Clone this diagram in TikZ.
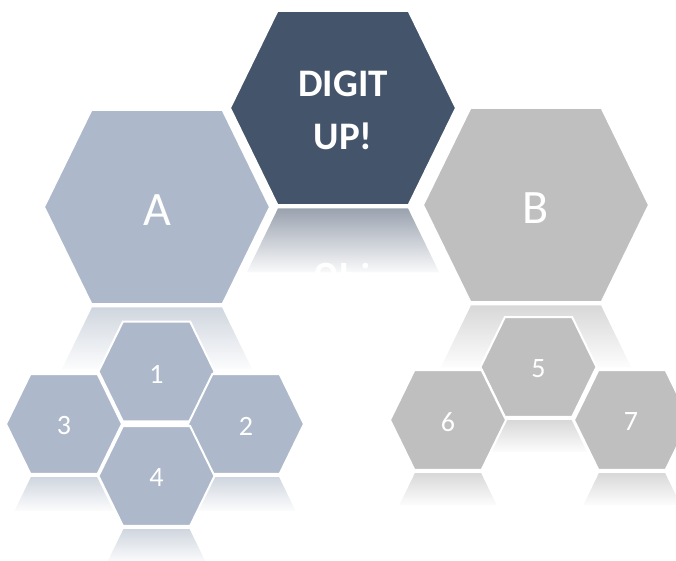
\documentclass[tikz,border=0pt]{standalone}
\usepackage{fontspec}
\setmainfont{Carlito}
\definecolor{darkhex}{HTML}{44546A}
\definecolor{bluehex}{HTML}{ADB9CA}
\definecolor{grayhex}{HTML}{BFBFBF}
\definecolor{darkrefl}{HTML}{9AA2AF}
\definecolor{bluerefl}{HTML}{D0D6DF}
\definecolor{grayrefl}{HTML}{D8D8D8}
% hexagon path: centre x, centre y, half width
\newcommand\hexpath[3]{({#1-#3},{#2}) -- ({#1-0.58*#3},{#2-0.86*#3}) -- ({#1+0.58*#3},{#2-0.86*#3}) -- ({#1+#3},{#2}) -- ({#1+0.58*#3},{#2+0.86*#3}) -- ({#1-0.58*#3},{#2+0.86*#3}) -- cycle}
% reflection path: centre x, centre y, half width, length
\newcommand\reflpath[4]{({#1-0.58*#3},{#2+0.86*#3+4}) -- ({#1+0.58*#3},{#2+0.86*#3+4}) -- ({#1+0.58*#3+0.488*#4},{#2+0.86*#3+4+#4}) -- ({#1-0.58*#3-0.488*#4},{#2+0.86*#3+4+#4}) -- cycle}
\tikzset{
  hexfill/.style={fill=#1, draw=white, line width=2pt},
  refl/.style={top color=#1, bottom color=#1!6, draw=none},
  bigtxt/.style={text=white, font=\fontsize{48}{50}\selectfont},
  smalltxt/.style={text=white, font=\fontsize{28}{30}\selectfont},
  titletxt/.style={text=white, align=center, font=\bfseries\fontsize{39}{53}\selectfont},
}
\begin{document}
\begin{tikzpicture}[x=1pt,y=-1pt]
\useasboundingbox (0,0) rectangle (676,561);
\clip (0,0) rectangle (676,561);
% reflections
\shade[refl=darkrefl] \reflpath{343}{108}{112}{64};
\begin{scope}
  \clip \reflpath{343}{108}{112}{64};
  \node[titletxt, yscale=-1] (digitrefl) at (343,303) {DIGIT\\UP!};
\end{scope}
\shade[refl=bluerefl] \reflpath{157}{207}{112}{62};
\shade[refl=grayrefl] \reflpath{536}{205}{112}{62};
\shade[refl=bluerefl] \reflpath{64}{424}{57}{34};
\shade[refl=bluerefl] \reflpath{246}{424}{57}{34};
\shade[refl=bluerefl] \reflpath{156.5}{476}{57}{34};
\shade[refl=grayrefl] \reflpath{538.5}{367}{57}{32};
\shade[refl=grayrefl] \reflpath{448}{420}{57}{32};
\shade[refl=grayrefl] \reflpath{632}{420}{57}{32};
% big hexagons
\path[hexfill=darkhex] \hexpath{343}{108}{113};
\path[hexfill=bluehex] \hexpath{157}{207}{113};
\path[hexfill=grayhex] \hexpath{536}{205}{113};
% small hexagons
\path[hexfill=bluehex] \hexpath{156.5}{371.5}{58};
\path[hexfill=bluehex] \hexpath{64}{424}{58};
\path[hexfill=bluehex] \hexpath{246}{424}{58};
\path[hexfill=bluehex] \hexpath{156.5}{476}{58};
\path[hexfill=grayhex] \hexpath{538.5}{367}{58};
\path[hexfill=grayhex] \hexpath{448}{420}{58};
\path[hexfill=grayhex] \hexpath{632}{420}{58};
% labels
\node[titletxt] (digit) at (343,110) {DIGIT\\UP!};
\node[bigtxt] (a) at (157,210) {A};
\node[bigtxt] (b) at (536,208) {B};
\node[smalltxt] (n1) at (156.5,374) {1};
\node[smalltxt] (n3) at (64,426) {3};
\node[smalltxt] (n2) at (246,426) {2};
\node[smalltxt] (n4) at (156.5,478) {4};
\node[smalltxt] (n5) at (538.5,369) {5};
\node[smalltxt] (n6) at (448,422) {6};
\node[smalltxt] (n7) at (631,422) {7};
\end{tikzpicture}
\end{document}
